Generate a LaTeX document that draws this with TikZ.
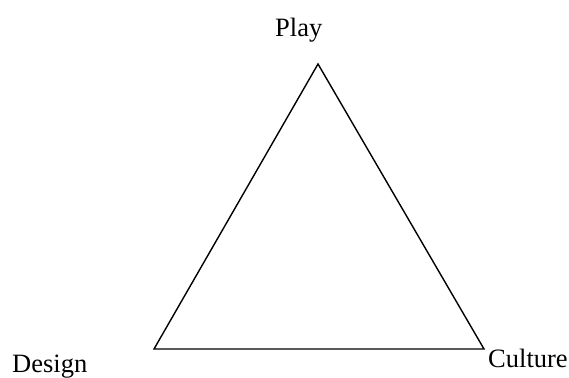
\documentclass[tikz,border=0pt]{standalone}
\usepackage{fontspec}
\setmainfont{Liberation Serif}
\begin{document}
\begin{tikzpicture}[x=1pt,y=-1pt,
  lbl/.style={font=\fontsize{26.5}{30}\selectfont, inner sep=0pt, anchor=base west},
  edge/.style={line width=1.4pt, line join=miter}]
\useasboundingbox (0,0) rectangle (569,377);
\coordinate (top) at (318,64);
\coordinate (bl) at (154,349);
\coordinate (br) at (484,349);
\draw[edge] (top) -- (bl) -- (br) -- cycle;
\node[lbl] (play) at (275,37) {Play};
\node[lbl] (design) at (12,372) {Design};
\node[lbl] (culture) at (488,367) {Culture};
\end{tikzpicture}
\end{document}
